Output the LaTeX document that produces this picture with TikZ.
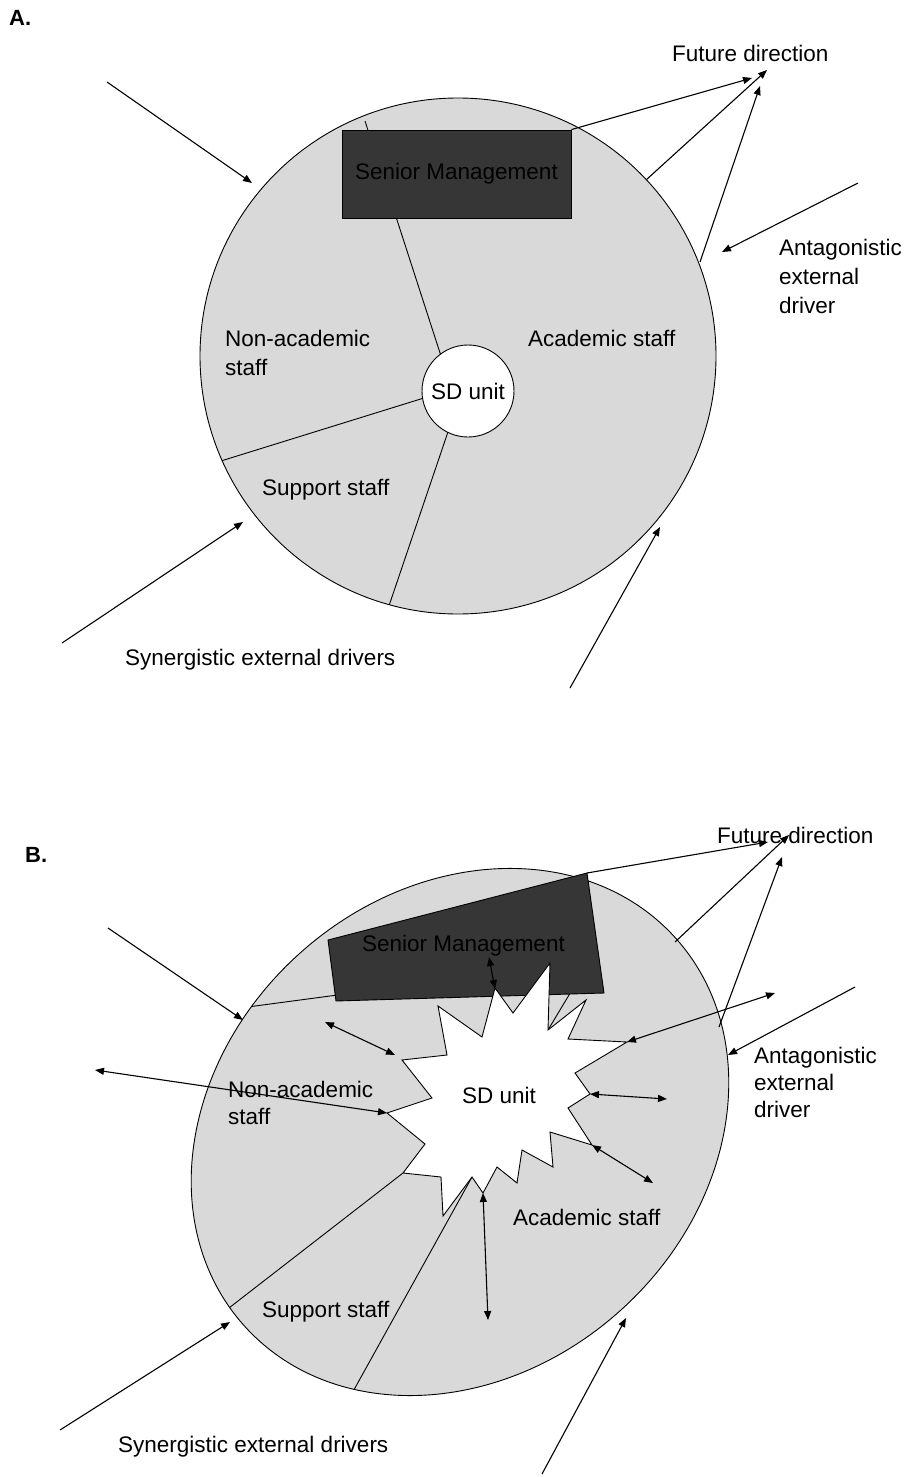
\documentclass[tikz,border=0pt]{standalone}
\usepackage{fontspec}
\setmainfont{Liberation Sans}
\usetikzlibrary{arrows.meta}
\definecolor{regionfill}{RGB}{217,217,217}
\definecolor{smfill}{RGB}{54,54,54}
\begin{document}
\begin{tikzpicture}[x=1pt,y=-1pt,
  lbl/.style={font=\fontsize{22.5}{29}\selectfont, inner sep=0pt, align=left},
  lblB/.style={font=\fontsize{22.5}{27}\selectfont, inner sep=0pt, align=left},
  ttl/.style={font=\fontsize{22}{24}\selectfont\bfseries, inner sep=0pt},
  arr/.style={line width=1.1pt, -{Triangle[length=9pt,width=7pt]}},
  darr/.style={line width=1.1pt, {Triangle[length=9pt,width=7pt]}-{Triangle[length=9pt,width=7pt]}},
  edge line/.style={line width=0.9pt},
]
\useasboundingbox (0,0) rectangle (904,1477);
\fill[white] (0,0) rectangle (904,1477);

%================ PART A ================
\node[ttl, anchor=west] (titleA) at (9,18) {A.};
\coordinate (cA) at (458,356);
\fill[regionfill] (cA) circle [radius=258];
\begin{scope}
  \clip (cA) circle [radius=258];
  \coordinate (dA1) at (365,121);
  \coordinate (dA1e) at (452,390);
  \coordinate (dA2) at (150,483);
  \coordinate (dA2e) at (440,393);
  \coordinate (dA3) at (375,647);
  \coordinate (dA3e) at (452,420);
  \draw[edge line] (dA1) -- (dA1e);
  \draw[edge line] (dA2) -- (dA2e);
  \draw[edge line] (dA3) -- (dA3e);
\end{scope}
\draw[edge line] (cA) circle [radius=258];
\node[draw, edge line, fill=smfill, minimum width=229pt, minimum height=88pt, inner sep=0pt, lbl] (smA) at (456.5,174) {Senior Management};
\node[circle, draw, edge line, fill=white, minimum size=92pt, inner sep=0pt, lbl] (sdA) at (468,391) {SD unit};

\node[lbl, anchor=west] (fdA) at (672,53) {Future direction};
\node[lbl, anchor=west] (antA) at (779,276) {Antagonistic\\external\\driver};
\node[lbl, anchor=west] (naA) at (225,353) {Non-academic\\staff};
\node[lbl, anchor=west] (acA) at (528,338) {Academic staff};
\node[lbl, anchor=west] (suA) at (262,490) {Support staff};
\node[lbl, anchor=west] (syA) at (125,660) {Synergistic external drivers};

% external arrows A
\coordinate (a1s) at (107,82);   \coordinate (a1e) at (252,183);
\coordinate (a2s) at (62,643);   \coordinate (a2e) at (243,522);
\coordinate (a3s) at (570,688);  \coordinate (a3e) at (660,527);
\coordinate (a4s) at (858,183);  \coordinate (a4e) at (722,252);
\coordinate (f1e) at (752,78);
\coordinate (f2s) at (646,180);  \coordinate (f2e) at (767,70);
\coordinate (f3s) at (700,262);  \coordinate (f3e) at (760,86);
\draw[arr] (a1s) -- (a1e);
\draw[arr] (a2s) -- (a2e);
\draw[arr] (a3s) -- (a3e);
\draw[arr] (a4s) -- (a4e);
\draw[arr] (smA.north east) -- (f1e);
\draw[arr] (f2s) -- (f2e);
\draw[arr] (f3s) -- (f3e);

%================ PART B ================
\node[ttl, anchor=west] (titleB) at (25,855) {B.};
\coordinate (cB) at (460,1132);
\filldraw[edge line, fill=regionfill, rotate around={42:(cB)}] (cB) ellipse [x radius=290, y radius=240];
\begin{scope}
  \clip[rotate around={42:(cB)}] (cB) ellipse [x radius=290, y radius=240];
  \coordinate (dB1s) at (180,1016); \coordinate (dB1e) at (345,994);
  \coordinate (dB2s) at (548,1030); \coordinate (dB2e) at (572,990);
  \coordinate (dB3s) at (403,1173); \coordinate (dB3e) at (140,1377);
  \coordinate (dB4s) at (472,1177); \coordinate (dB4e) at (320,1451);
  \draw[edge line] (dB1s) -- (dB1e);
  \draw[edge line] (dB2s) -- (dB2e);
  \draw[edge line] (dB3s) -- (dB3e);
  \draw[edge line] (dB4s) -- (dB4e);
\end{scope}
% senior management (tilted)
\filldraw[edge line, fill=smfill] (328,940) -- (587,873) -- (604,993) -- (336,1001) -- cycle;
\coordinate (smBcorner) at (587,873);
% SD unit star
\filldraw[edge line, fill=white]
  (495,988) -- (513,1013) -- (550,963) -- (548,1030) -- (586,1000) -- (568,1039)
  -- (627,1042) -- (575,1073) -- (590,1094) -- (568,1108) -- (592,1145) -- (550,1132)
  -- (553,1167) -- (522,1150) -- (517,1183) -- (497,1167) -- (483,1193) -- (472,1177)
  -- (443,1216) -- (441,1177) -- (403,1173) -- (425,1144) -- (387,1113) -- (432,1098)
  -- (402,1060) -- (447,1055) -- (438,1006) -- (482,1037) -- cycle;

\node[lblB, anchor=west] (smB) at (362,946) {Senior Management};
\node[lblB] (sdB) at (499,1095) {SD unit};
\node[lblB, anchor=west] (fdB) at (717,835) {Future direction};
\node[lblB, anchor=west] (antB) at (754,1082) {Antagonistic\\external\\driver};
\node[lblB, anchor=west] (naB) at (228,1103) {Non-academic\\staff};
\node[lblB, anchor=west] (acB) at (513,1217) {Academic staff};
\node[lblB, anchor=west] (suB) at (262,1312) {Support staff};
\node[lblB, anchor=west] (syB) at (118,1447) {Synergistic external drivers};

% internal double arrows
\coordinate (i1a) at (489,957);  \coordinate (i1b) at (495,989);
\coordinate (i2a) at (325,1022); \coordinate (i2b) at (395,1055);
\coordinate (i3a) at (95,1070);  \coordinate (i3b) at (387,1113);
\coordinate (i4a) at (627,1042); \coordinate (i4b) at (775,993);
\coordinate (i5a) at (590,1094); \coordinate (i5b) at (667,1099);
\coordinate (i6a) at (592,1145); \coordinate (i6b) at (653,1183);
\coordinate (i7a) at (483,1193); \coordinate (i7b) at (488,1320);
\draw[darr] (i1a) -- (i1b);
\draw[darr] (i2a) -- (i2b);
\draw[darr] (i3a) -- (i3b);
\draw[darr] (i4a) -- (i4b);
\draw[darr] (i5a) -- (i5b);
\draw[darr] (i6a) -- (i6b);
\draw[darr] (i7a) -- (i7b);

% external arrows B
\coordinate (b1s) at (108,928);  \coordinate (b1e) at (243,1020);
\coordinate (b2s) at (60,1430);  \coordinate (b2e) at (230,1322);
\coordinate (b3s) at (542,1474); \coordinate (b3e) at (626,1318);
\coordinate (b4s) at (855,987);  \coordinate (b4e) at (728,1055);
\coordinate (g1e) at (768,842);
\coordinate (g2s) at (675,942);  \coordinate (g2e) at (789,835);
\coordinate (g3s) at (719,1027); \coordinate (g3e) at (782,857);
\draw[arr] (b1s) -- (b1e);
\draw[arr] (b2s) -- (b2e);
\draw[arr] (b3s) -- (b3e);
\draw[arr] (b4s) -- (b4e);
\draw[arr] (smBcorner) -- (g1e);
\draw[arr] (g2s) -- (g2e);
\draw[arr] (g3s) -- (g3e);
\end{tikzpicture}
\end{document}
